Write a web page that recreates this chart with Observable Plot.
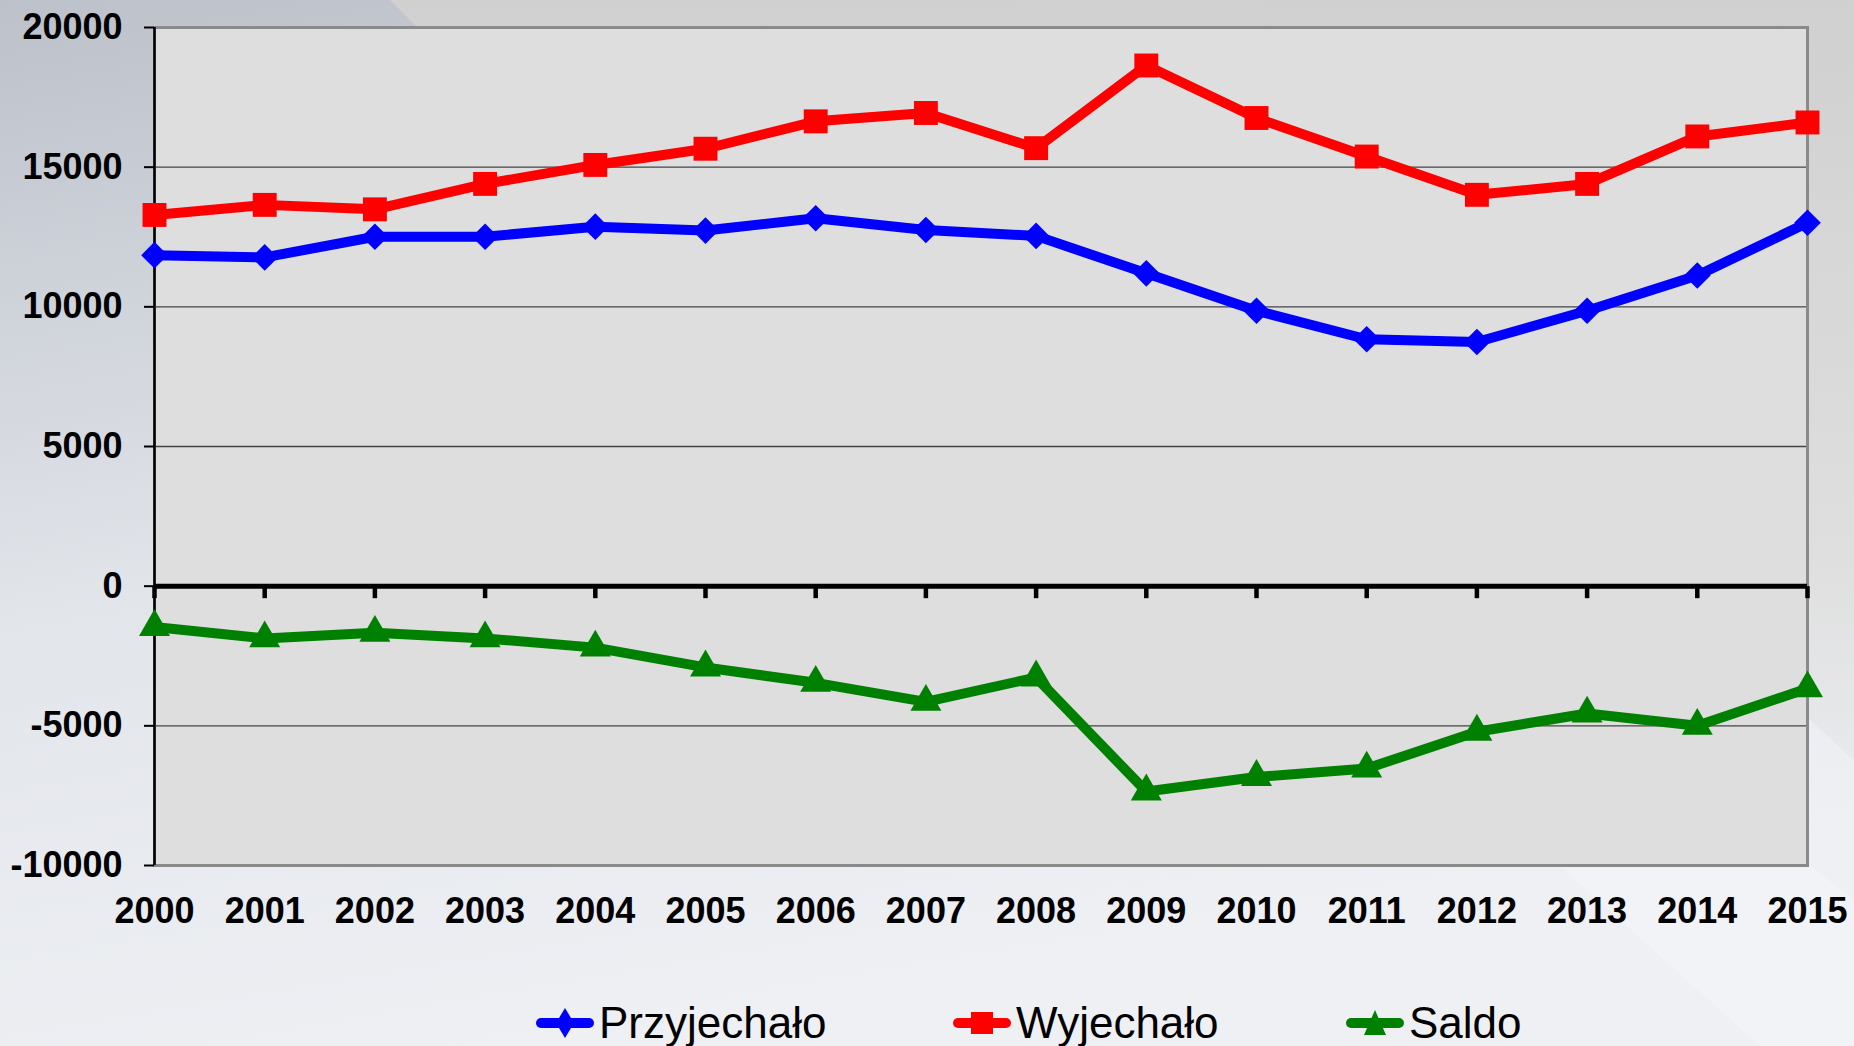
<!DOCTYPE html>
<html>
<head>
<meta charset="utf-8">
<script src="https://cdn.jsdelivr.net/npm/d3@7"></script>
<script src="https://cdn.jsdelivr.net/npm/@observablehq/plot@0.6"></script>
<style>
  html, body { margin: 0; padding: 0; }
  body { width: 1854px; height: 1046px; position: relative; overflow: hidden; font-family: "Liberation Sans", Arial, sans-serif; }
  #bg { position: absolute; left: 0; top: 0; }
  #chart { position: absolute; left: 0; top: 0; }
  .leg { position: absolute; top: 998px; height: 50px; display: flex; align-items: center; font-size: 44px; color: #000; }
  .leg svg { margin-right: 5px; }
</style>
</head>
<body>
<svg id="bg" width="1854" height="1046">
  <defs>
    <linearGradient id="g1" x1="0" y1="0" x2="0.3" y2="1">
      <stop offset="0" stop-color="#bcc1ca"/>
      <stop offset="0.55" stop-color="#e2e5ea"/>
      <stop offset="1" stop-color="#eef0f4"/>
    </linearGradient>
    <linearGradient id="g2" x1="0" y1="0" x2="0" y2="1">
      <stop offset="0" stop-color="#d0d0d0"/>
      <stop offset="0.7" stop-color="#dedede"/>
      <stop offset="1" stop-color="#e8e9ec"/>
    </linearGradient>
  </defs>
  <rect x="0" y="0" width="1854" height="1046" fill="url(#g1)"/>
  <polygon points="390,0 1854,0 1854,760 1810,720 450,60" fill="url(#g2)"/>
  <polygon points="1560,866 1810,866 1854,900 1854,1046 1760,1046" fill="#f1f3f6"/>
</svg>
<div id="chart"></div>
<div class="leg" style="left:536px"><svg width="58" height="34"><line x1="5" y1="17" x2="53" y2="17" stroke="#0000ff" stroke-width="10" stroke-linecap="round"/><path d="M29,2 L38,17 L29,32 L20,17 Z" fill="#0000ff"/></svg>Przyjechało</div>
<div class="leg" style="left:953px"><svg width="58" height="34"><line x1="5" y1="17" x2="53" y2="17" stroke="#ff0000" stroke-width="10" stroke-linecap="round"/><rect x="18" y="6" width="22" height="22" fill="#ff0000"/></svg>Wyjechało</div>
<div class="leg" style="left:1346px"><svg width="58" height="34"><line x1="5" y1="17" x2="53" y2="17" stroke="#008000" stroke-width="10" stroke-linecap="round"/><path d="M29,4 L40,29 L18,29 Z" fill="#008000"/></svg>Saldo</div>
<script>
const years = [2000, 2001, 2002, 2003, 2004, 2005, 2006, 2007, 2008, 2009, 2010, 2011, 2012, 2013, 2014, 2015];
const przyjechalo = [11850, 11770, 12510, 12510, 12870, 12730, 13170, 12750, 12540, 11200, 9860, 8840, 8740, 9860, 11120, 13010];
const wyjechalo = [13290, 13650, 13490, 14400, 15080, 15660, 16640, 16940, 15680, 18640, 16760, 15380, 14010, 14400, 16100, 16600];
const saldo = [-1460, -1870, -1670, -1870, -2200, -2910, -3460, -4140, -3270, -7350, -6830, -6530, -5210, -4560, -5000, -3660];
const yTicks = [-10000, -5000, 0, 5000, 10000, 15000, 20000];
const seriesNames = ["Przyjechało", "Wyjechało", "Saldo"];
const seriesColors = ["#0000ff", "#ff0000", "#008000"];

const rowsP = years.map((x, i) => ({x, y: przyjechalo[i]}));
const rowsW = years.map((x, i) => ({x, y: wyjechalo[i]}));
const rowsS = years.map((x, i) => ({x, y: saldo[i]}));

const downTick = { draw(context) { context.moveTo(0, 0); context.lineTo(0, 12); } };

const chart = Plot.plot({
  width: 1854,
  height: 960,
  marginLeft: 154,
  marginRight: 47,
  marginTop: 27,
  marginBottom: 95,
  style: { background: "transparent", fontFamily: "'Liberation Sans', Arial, sans-serif", fontSize: "36px", fontWeight: "bold", color: "#000", overflow: "visible" },
  x: { type: "linear", domain: [2000, 2015] },
  y: { domain: [-10000, 20000] },
  marks: [
    Plot.frame({ fill: "url(#dots)", stroke: null }),
    Plot.gridY(yTicks, { stroke: "#444", strokeOpacity: 1, strokeWidth: 1.3 }),
    Plot.frame({ stroke: "#8a8a8a", strokeWidth: 3 }),
    Plot.ruleX([2000], { stroke: "#000", strokeWidth: 2.5 }),
    Plot.ruleY([0], { stroke: "#000", strokeWidth: 5 }),
    Plot.dot(years, { x: d => d, y: 0, symbol: downTick, fill: "none", stroke: "#000", strokeWidth: 4.5, r: 5 }),
    Plot.axisY({ ticks: yTicks, tickSize: 10, tickPadding: 22, tickFormat: d => String(d), label: null, strokeWidth: 2, fontSize: 36, fontWeight: "bold" }),
    Plot.axisX({ ticks: years, tickSize: 0, tickPadding: 32, tickFormat: d => String(d), label: null, fontSize: 36, fontWeight: "bold" }),
    Plot.line(rowsP, { x: "x", y: "y", stroke: seriesColors[0], strokeWidth: 10, strokeLinejoin: "round" }),
    Plot.line(rowsW, { x: "x", y: "y", stroke: seriesColors[1], strokeWidth: 10, strokeLinejoin: "round" }),
    Plot.line(rowsS, { x: "x", y: "y", stroke: seriesColors[2], strokeWidth: 10, strokeLinejoin: "round" }),
    Plot.dot(rowsP, { x: "x", y: "y", symbol: "diamond2", r: 12, fill: seriesColors[0], title: () => seriesNames[0] }),
    Plot.dot(rowsW, { x: "x", y: "y", symbol: "square", r: 13.5, fill: seriesColors[1], title: () => seriesNames[1] }),
    Plot.dot(rowsS, { x: "x", y: "y", symbol: "triangle", r: 11.5, fill: seriesColors[2], title: () => seriesNames[2] })
  ]
});

const ns = "http://www.w3.org/2000/svg";
const defs = document.createElementNS(ns, "defs");
defs.innerHTML = '<pattern id="dots" width="2" height="2" patternUnits="userSpaceOnUse"><rect width="2" height="2" fill="#ffffff"/><rect x="0" y="0" width="1" height="1" fill="#bdbdbd"/><rect x="1" y="1" width="1" height="1" fill="#bdbdbd"/></pattern>';
chart.insertBefore(defs, chart.firstChild);
document.getElementById("chart").appendChild(chart);
</script>
</body>
</html>
